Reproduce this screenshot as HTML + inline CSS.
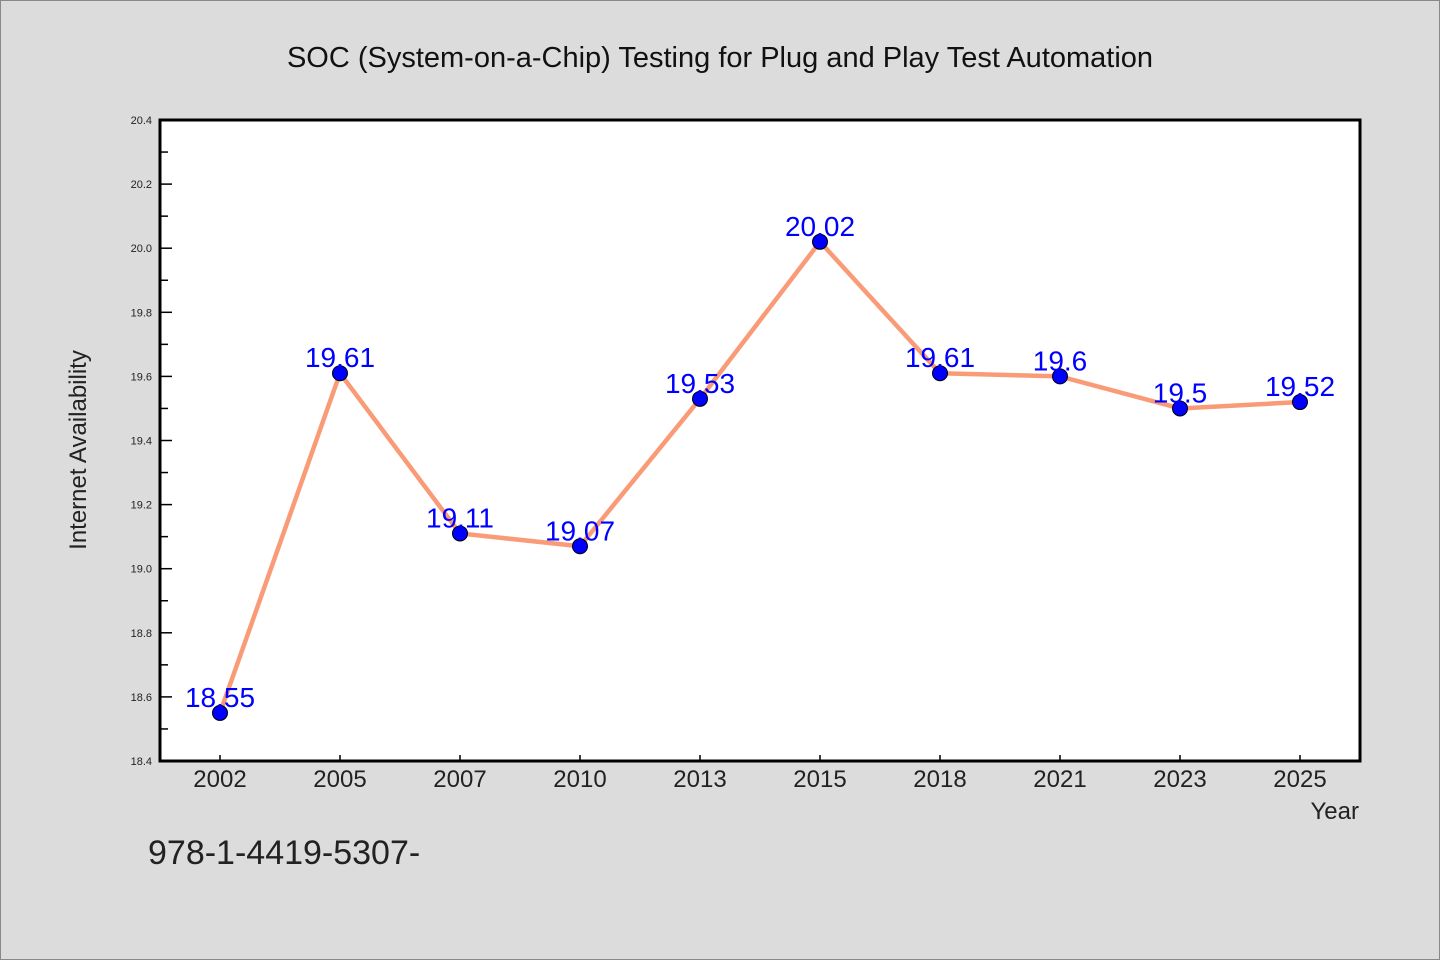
<!DOCTYPE html>
<html><head><meta charset="utf-8"><style>
body{margin:0;background:#dcdcdc;}
svg{display:block;font-family:"WenQuanYi Zen Hei","Liberation Sans",sans-serif;}
</style></head><body>
<svg id="c" width="1440" height="960">
<rect x="0.5" y="0.5" width="1439" height="959" fill="#dcdcdc" stroke="#888"/>
<text x="720" y="67" text-anchor="middle" font-size="29" fill="#111">SOC (System-on-a-Chip) Testing for Plug and Play Test Automation</text>
<rect x="160" y="120" width="1200" height="641" fill="#fff"/>
<g id="axes"></g>
<text transform="translate(86,450) rotate(-90)" text-anchor="middle" font-size="24" fill="#222">Internet Availability</text>
<text x="1359" y="819" text-anchor="end" font-size="24" fill="#222">Year</text>
<text x="148" y="864" font-size="34" fill="#222">978-1-4419-5307-</text>
<rect x="160" y="120" width="1200" height="641" fill="none" stroke="#000" stroke-width="3"/>
</svg>
<script>
const years = ["2002","2005","2007","2010","2013","2015","2018","2021","2023","2025"];
const values = [18.55,19.61,19.11,19.07,19.53,20.02,19.61,19.6,19.5,19.52];
const yTicks = [18.4,18.6,18.8,19.0,19.2,19.4,19.6,19.8,20.0,20.2,20.4];
const ns="http://www.w3.org/2000/svg";
const L=160,R=1360,T=120,B=761,yMin=18.4,yMax=20.4;
const xs=i=>L+(R-L)/years.length*(i+0.5);
const ys=v=>B-(v-yMin)/(yMax-yMin)*(B-T);
const g=document.getElementById('axes');
function mk(t,a){const e=document.createElementNS(ns,t);for(const k in a)e.setAttribute(k,a[k]);g.appendChild(e);return e;}
yTicks.forEach((v,i)=>{
  const y=ys(v);
  const tk=mk('line',{x1:L,x2:L+12,y1:y,y2:y,stroke:'#000','stroke-width':1.5});
  
  
  const t=mk('text',{x:L-8,y:y+4,'text-anchor':'end','font-size':11,fill:'#222'});
  t.textContent=v.toFixed(1);
  
  
  if(i<yTicks.length-1){
    const m=ys(v+0.1);
    const mt=mk('line',{x1:L,x2:L+8,y1:m,y2:m,stroke:'#000','stroke-width':1.5});
    
    
  }
});
years.forEach((yr,i)=>{
  const x=xs(i);
  const tk=mk('line',{x1:x,x2:x,y1:B,y2:B-6,stroke:'#000','stroke-width':1.5});
  
  
  const t=mk('text',{x:x,y:B+26,'text-anchor':'middle','font-size':24,fill:'#222'});
  t.textContent=yr;
  
  
});
const line=mk('polyline',{points:values.map((v,i)=>xs(i)+','+ys(v)).join(' '),fill:'none',stroke:'#fa9b78','stroke-width':4.5,'stroke-linejoin':'round'});


values.forEach((v,i)=>{
  const c=mk('circle',{cx:xs(i),cy:ys(v),r:7.5,fill:'#0000ff',stroke:'#000','stroke-width':1});
  
  
  const t=mk('text',{x:xs(i),y:ys(v)-6,'text-anchor':'middle','font-size':28,fill:'#0000ff'});
  t.textContent=String(v);
  
  
});
</script>
</body></html>
